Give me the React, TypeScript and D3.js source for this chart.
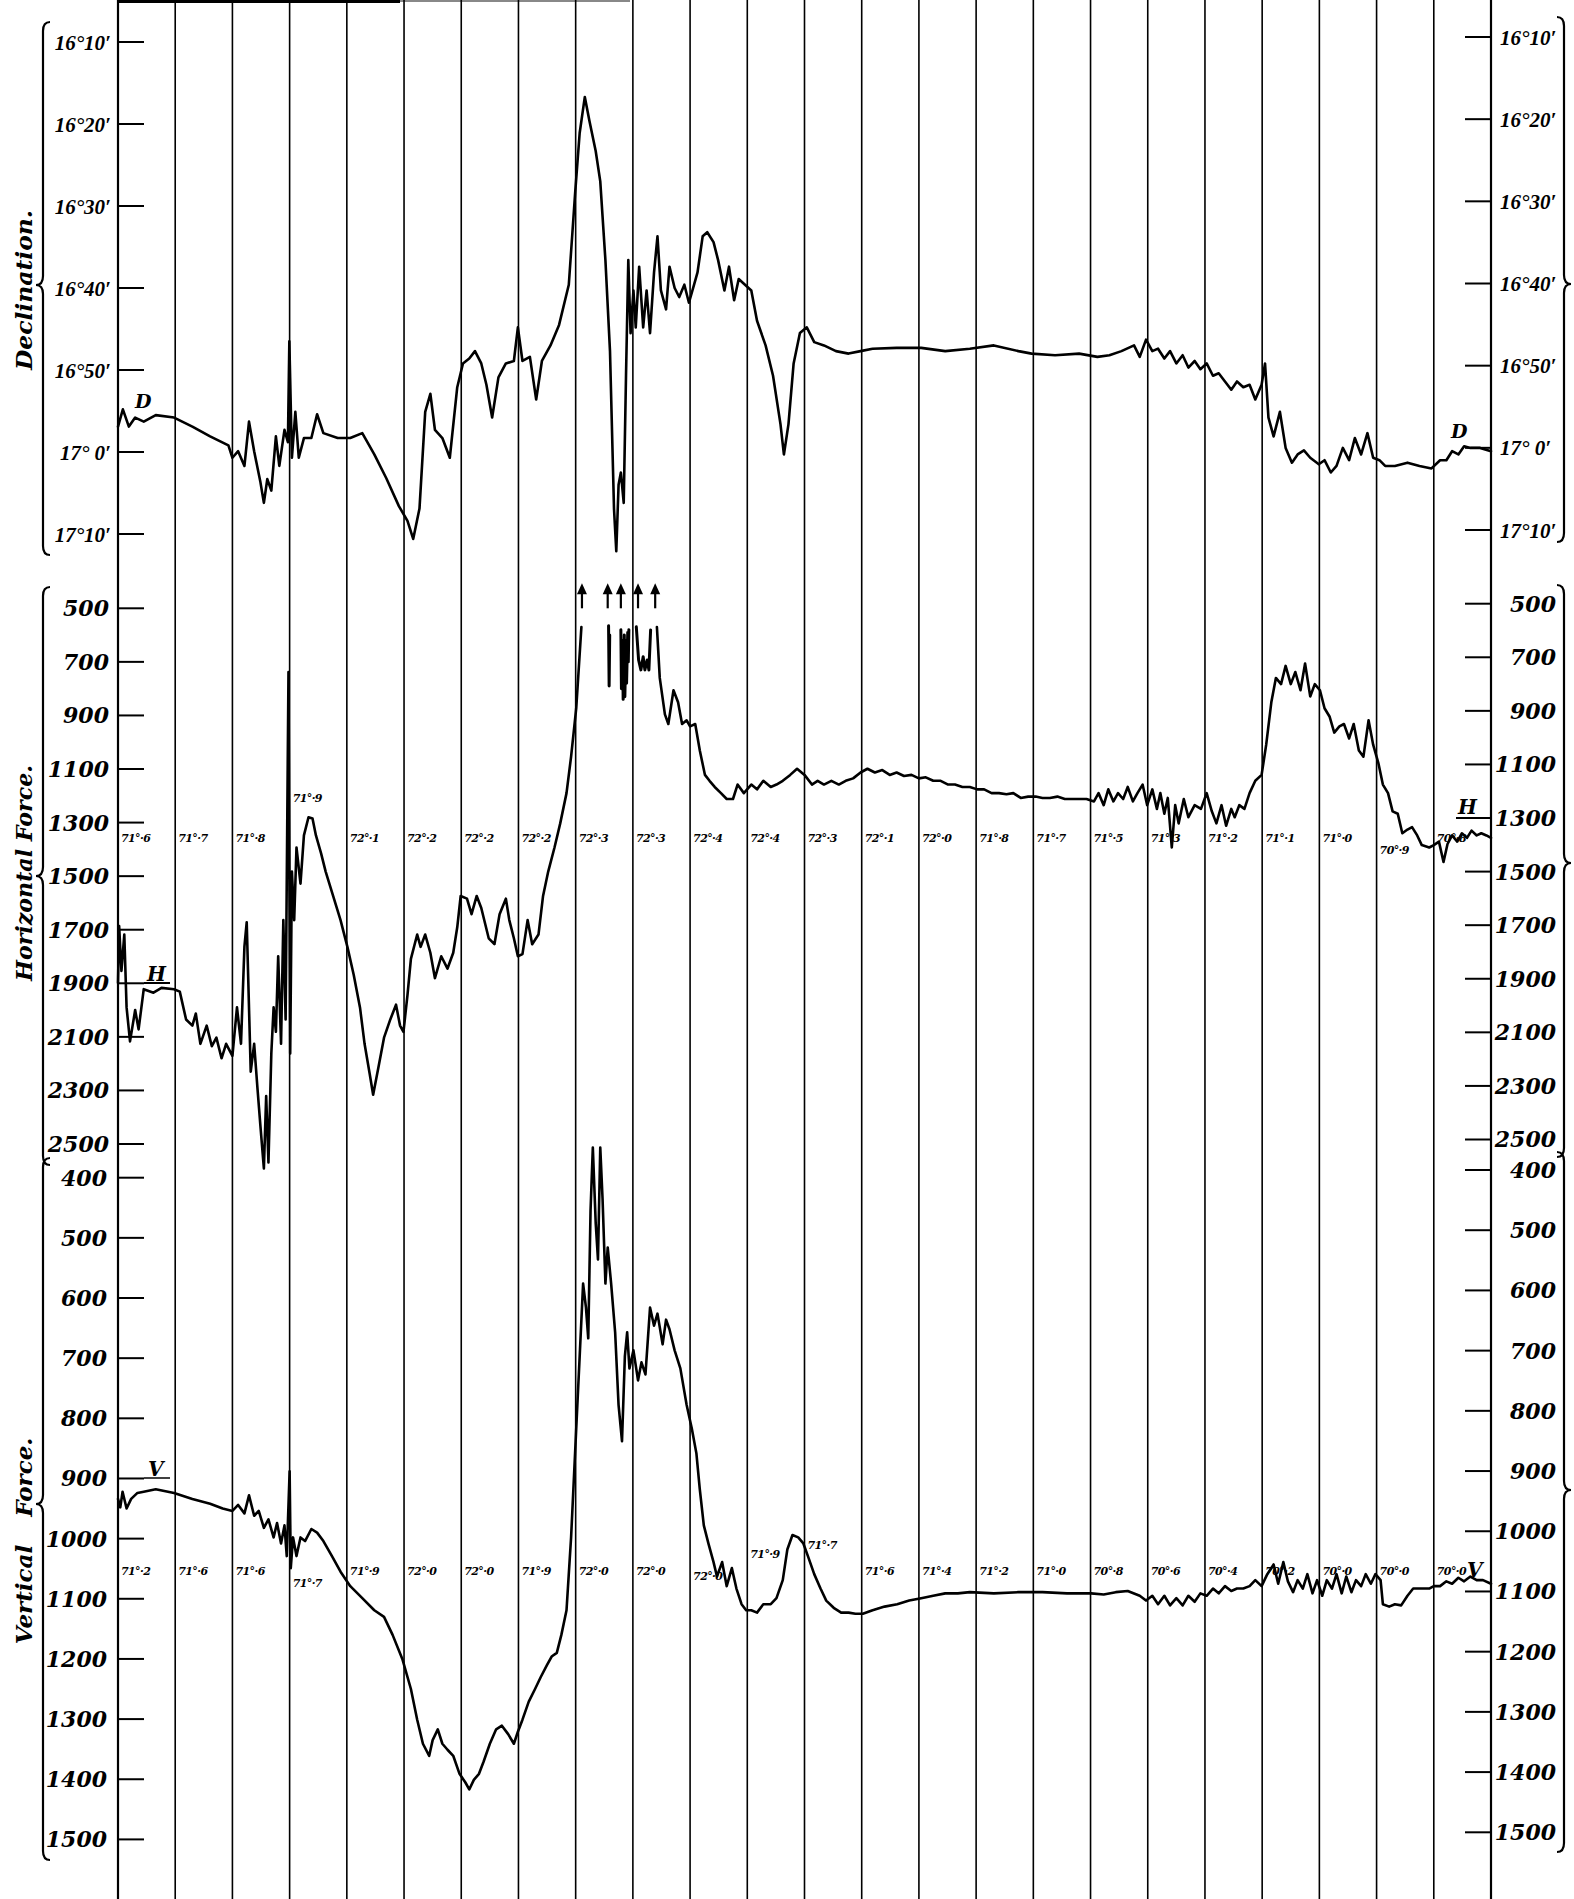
import React from "react";
import * as d3 from "d3";

const W = 1574;
const HGT = 1899;

const hourLines = d3.range(0, 25);

const declTicks = [10, 20, 30, 40, 50, 60, 70];
const declTickLabels = ["16°10′", "16°20′", "16°30′", "16°40′", "16°50′", "17° 0′", "17°10′"];
const hTicks = [500, 700, 900, 1100, 1300, 1500, 1700, 1900, 2100, 2300, 2500];
const vTicks = [400, 500, 600, 700, 800, 900, 1000, 1100, 1200, 1300, 1400, 1500];

const hTemps = ["71·6", "71·7", "71·8", "71·9", "72·1", "72·2", "72·2", "72·2", "72·3", "72·3", "72·4", "72·4",
  "72·3", "72·1", "72·0", "71·8", "71·7", "71·5", "71·3", "71·2", "71·1", "71·0", "70·9", "70·8"];
const vTemps = ["71·2", "71·6", "71·6", "71·7", "71·9", "72·0", "72·0", "71·9", "72·0", "72·0", "72·0", "71·9",
  "71·7", "71·6", "71·4", "71·2", "71·0", "70·8", "70·6", "70·4", "70·2", "70·0", "70·0", "70·0"];

const offScaleHours = [8.11, 8.56, 8.79, 9.09, 9.39];

// Declination, minutes of arc past 16°
const declination: [number, number][] = [
  [0, 56.9], [0.085, 54.8], [0.19, 56.9], [0.3, 55.8], [0.45, 56.3], [0.66, 55.5], [0.98, 55.8], [1.3, 56.9],
  [1.61, 58.1], [1.93, 59.2], [2.0, 60.7], [2.1, 59.9], [2.21, 61.7], [2.29, 56.3], [2.38, 59.9], [2.49, 63.7],
  [2.55, 66.2], [2.61, 63.3], [2.68, 64.7], [2.76, 58.1], [2.82, 61.7], [2.91, 57.3], [2.97, 58.8], [2.995, 46.5],
  [3.04, 60.7], [3.1, 55.1], [3.16, 60.7], [3.25, 58.3], [3.38, 58.3], [3.48, 55.4], [3.59, 57.7], [3.84, 58.3],
  [4.06, 58.3], [4.27, 57.7], [4.48, 60.3], [4.69, 63.2], [4.91, 66.6], [5.06, 68.4], [5.16, 70.6], [5.27, 66.9],
  [5.37, 55.1], [5.46, 52.9], [5.54, 57.3], [5.67, 58.3], [5.8, 60.7], [5.93, 52.1], [6.03, 49.2], [6.14, 48.6],
  [6.24, 47.7], [6.35, 49.2], [6.44, 51.8], [6.54, 55.8], [6.65, 50.9], [6.78, 49.2], [6.92, 48.9], [6.99, 44.8],
  [7.07, 48.9], [7.2, 48.4], [7.31, 53.6], [7.41, 48.9], [7.56, 47.0], [7.71, 44.5], [7.88, 39.6], [7.99, 28.5],
  [8.07, 21.1], [8.16, 16.7], [8.24, 19.6], [8.35, 23.3], [8.43, 27.0], [8.52, 36.6], [8.6, 47.7], [8.67, 66.9],
  [8.71, 72.1], [8.75, 64.0], [8.79, 62.5], [8.84, 66.2], [8.88, 50.7], [8.92, 36.6], [8.96, 45.5], [9.01, 40.3],
  [9.05, 44.8], [9.11, 37.4], [9.18, 44.8], [9.24, 40.3], [9.3, 45.5], [9.37, 38.1], [9.43, 33.7], [9.49, 40.3],
  [9.58, 42.6], [9.64, 37.4], [9.73, 40.0], [9.81, 41.1], [9.9, 39.6], [9.98, 41.8], [10.07, 39.6], [10.13, 38.1],
  [10.22, 33.7], [10.3, 33.2], [10.41, 34.4], [10.49, 36.6], [10.6, 40.3], [10.68, 37.4], [10.77, 41.5], [10.85, 38.9],
  [10.96, 39.6], [11.07, 40.3], [11.17, 44.0], [11.32, 47.0], [11.45, 50.7], [11.58, 56.6], [11.64, 60.3], [11.72, 56.6],
  [11.81, 49.2], [11.92, 45.5], [12.04, 44.8], [12.17, 46.6], [12.34, 47.0], [12.55, 47.7], [12.77, 48.0], [12.98, 47.7],
  [13.19, 47.4], [13.61, 47.3], [14.04, 47.3], [14.46, 47.7], [14.89, 47.4], [15.31, 47.0], [15.74, 47.7], [15.97, 48.0],
  [16.38, 48.2], [16.8, 48.0], [17.12, 48.4], [17.33, 48.2], [17.54, 47.7], [17.76, 47.0], [17.86, 48.4], [17.97, 46.3],
  [18.08, 47.7], [18.18, 47.4], [18.29, 48.6], [18.39, 47.7], [18.5, 49.2], [18.61, 48.2], [18.71, 49.7], [18.82, 48.9],
  [18.92, 49.9], [19.03, 49.2], [19.14, 50.7], [19.24, 50.4], [19.35, 51.4], [19.46, 52.4], [19.56, 51.4], [19.67, 52.1],
  [19.78, 51.8], [19.88, 53.6], [19.99, 51.8], [20.05, 49.2], [20.11, 55.8], [20.2, 58.1], [20.31, 55.1], [20.41, 59.5],
  [20.52, 61.3], [20.62, 60.3], [20.73, 59.8], [20.84, 60.7], [20.99, 61.5], [21.09, 61.0], [21.2, 62.5], [21.3, 61.7],
  [21.41, 59.5], [21.52, 61.0], [21.62, 58.3], [21.73, 60.3], [21.84, 57.7], [21.94, 60.7], [22.05, 61.0], [22.15, 61.7],
  [22.32, 61.7], [22.54, 61.3], [22.75, 61.7], [22.96, 62.0], [23.11, 61.0], [23.22, 61.0], [23.32, 59.9], [23.43, 60.3],
  [23.53, 59.3], [23.64, 59.5], [23.81, 59.5], [24.0, 59.9],
];

// Horizontal force, scale divisions; the trace leaves the sheet between ~8.1h and ~9.4h
const horizontalBefore: [number, number][] = [
  [0, 1899], [0.02, 1686], [0.06, 1854], [0.11, 1718], [0.15, 1990], [0.21, 2117], [0.3, 2000], [0.36, 2072],
  [0.45, 1922], [0.62, 1935], [0.76, 1917], [0.98, 1922], [1.08, 1931], [1.19, 2035], [1.3, 2058], [1.36, 2013],
  [1.44, 2126], [1.55, 2058], [1.64, 2135], [1.72, 2103], [1.81, 2180], [1.89, 2126], [2.0, 2171], [2.08, 1990],
  [2.15, 2126], [2.21, 1763], [2.25, 1672], [2.32, 2230], [2.38, 2126], [2.44, 2298], [2.49, 2434], [2.55, 2591],
  [2.59, 2321], [2.63, 2569], [2.68, 2162], [2.72, 1990], [2.76, 2081], [2.8, 1799], [2.85, 2126], [2.89, 1664],
  [2.93, 2035], [2.98, 738], [3.01, 2162], [3.04, 1483], [3.08, 1664], [3.12, 1393], [3.19, 1528], [3.25, 1348],
  [3.33, 1280], [3.4, 1285], [3.46, 1348], [3.55, 1415], [3.63, 1483], [3.76, 1574], [3.89, 1664], [4.01, 1764],
  [4.12, 1868], [4.23, 1990], [4.31, 2126], [4.4, 2239], [4.46, 2316], [4.55, 2216], [4.65, 2103], [4.76, 2035],
  [4.86, 1980], [4.93, 2058], [4.99, 2081], [5.06, 1944], [5.12, 1809], [5.23, 1718], [5.29, 1764], [5.37, 1718],
  [5.46, 1786], [5.54, 1881], [5.65, 1799], [5.76, 1845], [5.86, 1786], [5.93, 1691], [5.99, 1574], [6.1, 1584],
  [6.18, 1642], [6.27, 1574], [6.35, 1619], [6.48, 1732], [6.58, 1754], [6.67, 1642], [6.78, 1584], [6.84, 1664],
  [6.92, 1732], [6.99, 1799], [7.07, 1791], [7.16, 1664], [7.24, 1754], [7.35, 1718], [7.43, 1574], [7.52, 1483],
  [7.63, 1393], [7.73, 1303], [7.84, 1190], [7.92, 1054], [8.01, 873], [8.1, 570],
];
const horizontalFragments: [number, number][][] = [
  [[8.575, 565], [8.585, 790], [8.595, 600]],
  [[8.79, 580], [8.8, 800], [8.82, 620], [8.83, 840], [8.85, 600], [8.86, 830], [8.88, 620], [8.89, 780], [8.91, 590], [8.92, 700], [8.93, 580]],
  [[9.06, 569], [9.1, 693], [9.14, 730], [9.18, 681], [9.21, 730], [9.25, 693], [9.28, 730], [9.31, 581]],
];
const horizontalAfter: [number, number][] = [
  [9.42, 570], [9.47, 760], [9.56, 896], [9.62, 932], [9.71, 806], [9.79, 851], [9.86, 932], [9.94, 918], [10.0, 941],
  [10.09, 932], [10.17, 1031], [10.26, 1122], [10.34, 1144], [10.43, 1167], [10.54, 1190], [10.64, 1212], [10.75, 1212],
  [10.83, 1158], [10.94, 1190], [11.07, 1158], [11.17, 1176], [11.28, 1144], [11.41, 1167], [11.51, 1158], [11.62, 1144],
  [11.75, 1122], [11.87, 1099], [12.0, 1122], [12.13, 1158], [12.23, 1144], [12.34, 1158], [12.47, 1144], [12.6, 1158],
  [12.72, 1144], [12.85, 1135], [12.98, 1113], [13.1, 1099], [13.23, 1113], [13.36, 1104], [13.49, 1122], [13.61, 1113],
  [13.74, 1126], [13.87, 1122], [14.0, 1135], [14.12, 1131], [14.25, 1144], [14.38, 1144], [14.51, 1158], [14.63, 1158],
  [14.76, 1167], [14.89, 1167], [15.02, 1176], [15.14, 1176], [15.27, 1190], [15.4, 1190], [15.53, 1194], [15.65, 1190],
  [15.78, 1208], [15.91, 1203], [16.04, 1203], [16.16, 1208], [16.29, 1208], [16.42, 1203], [16.55, 1212], [16.67, 1212],
  [16.8, 1212], [16.93, 1212], [17.06, 1221], [17.14, 1190], [17.23, 1235], [17.31, 1176], [17.4, 1221], [17.48, 1190],
  [17.57, 1212], [17.65, 1167], [17.74, 1221], [17.82, 1190], [17.91, 1158], [17.99, 1235], [18.08, 1176], [18.16, 1249],
  [18.22, 1190], [18.29, 1267], [18.35, 1208], [18.42, 1393], [18.48, 1235], [18.54, 1303], [18.63, 1212], [18.71, 1280],
  [18.82, 1235], [18.93, 1249], [19.03, 1190], [19.12, 1258], [19.2, 1303], [19.29, 1235], [19.37, 1312], [19.46, 1249],
  [19.52, 1280], [19.6, 1235], [19.69, 1249], [19.78, 1190], [19.88, 1144], [19.99, 1122], [20.07, 1010], [20.16, 851],
  [20.24, 760], [20.33, 783], [20.41, 715], [20.5, 783], [20.58, 738], [20.67, 806], [20.75, 706], [20.84, 829],
  [20.92, 783], [21.01, 806], [21.09, 873], [21.18, 905], [21.26, 964], [21.35, 941], [21.43, 932], [21.52, 986],
  [21.6, 932], [21.69, 1031], [21.77, 1054], [21.86, 918], [21.94, 1009], [22.03, 1077], [22.11, 1158], [22.2, 1190],
  [22.28, 1258], [22.37, 1267], [22.45, 1340], [22.54, 1326], [22.62, 1317], [22.71, 1348], [22.79, 1384], [22.92, 1393],
  [23.0, 1384], [23.09, 1371], [23.17, 1447], [23.24, 1380], [23.32, 1348], [23.41, 1371], [23.49, 1340], [23.58, 1357],
  [23.66, 1330], [23.75, 1348], [23.83, 1340], [23.92, 1348], [24.0, 1357],
];

// Vertical force, scale divisions
const vertical: [number, number][] = [
  [0, 934], [0.04, 948], [0.08, 922], [0.15, 950], [0.23, 934], [0.34, 924], [0.45, 922], [0.66, 918], [0.98, 924],
  [1.3, 934], [1.61, 942], [1.83, 950], [2.0, 954], [2.1, 944], [2.21, 958], [2.29, 928], [2.38, 962], [2.46, 954],
  [2.55, 982], [2.63, 968], [2.72, 998], [2.78, 974], [2.85, 1008], [2.91, 978], [2.95, 1029], [3.0, 888], [3.02, 1049],
  [3.06, 998], [3.12, 1029], [3.19, 998], [3.27, 1004], [3.38, 984], [3.48, 990], [3.59, 1004], [3.74, 1029], [3.89, 1055],
  [4.06, 1079], [4.27, 1099], [4.48, 1119], [4.65, 1130], [4.8, 1160], [4.97, 1200], [5.12, 1250], [5.23, 1301],
  [5.33, 1341], [5.44, 1361], [5.5, 1335], [5.59, 1317], [5.67, 1341], [5.76, 1351], [5.86, 1361], [5.97, 1391],
  [6.07, 1405], [6.14, 1417], [6.22, 1401], [6.31, 1391], [6.39, 1371], [6.5, 1341], [6.61, 1317], [6.71, 1311],
  [6.82, 1325], [6.92, 1341], [6.99, 1321], [7.07, 1301], [7.18, 1271], [7.29, 1250], [7.39, 1230], [7.5, 1210],
  [7.58, 1196], [7.67, 1190], [7.75, 1160], [7.84, 1119], [7.92, 998], [8.01, 817], [8.07, 697], [8.13, 576],
  [8.18, 616], [8.22, 667], [8.26, 455], [8.3, 350], [8.35, 475], [8.39, 536], [8.43, 350], [8.47, 435], [8.52, 576],
  [8.56, 516], [8.62, 576], [8.69, 657], [8.75, 778], [8.81, 838], [8.86, 697], [8.9, 657], [8.94, 717], [9.01, 687],
  [9.09, 737], [9.15, 707], [9.22, 727], [9.3, 616], [9.37, 646], [9.43, 626], [9.52, 677], [9.58, 636], [9.64, 652],
  [9.73, 687], [9.83, 717], [9.94, 778], [10.03, 817], [10.11, 858], [10.17, 918], [10.24, 978], [10.32, 1008],
  [10.41, 1039], [10.47, 1063], [10.56, 1039], [10.64, 1079], [10.73, 1049], [10.81, 1083], [10.9, 1109], [10.98, 1119],
  [11.07, 1119], [11.17, 1123], [11.28, 1109], [11.41, 1109], [11.51, 1099], [11.62, 1069], [11.7, 1018], [11.79, 994],
  [11.89, 998], [11.98, 1008], [12.06, 1029], [12.17, 1059], [12.28, 1083], [12.38, 1103], [12.51, 1115], [12.64, 1123],
  [12.77, 1123], [12.89, 1125], [13.02, 1125], [13.19, 1119], [13.4, 1113], [13.62, 1109], [13.83, 1103], [14.04, 1099],
  [14.25, 1095], [14.46, 1091], [14.68, 1091], [14.89, 1089], [15.31, 1091], [15.74, 1089], [16.16, 1089], [16.59, 1091],
  [17.01, 1091], [17.23, 1093], [17.44, 1089], [17.65, 1087], [17.86, 1095], [17.97, 1103], [18.08, 1095], [18.18, 1109],
  [18.29, 1095], [18.39, 1111], [18.5, 1099], [18.61, 1111], [18.71, 1095], [18.82, 1105], [18.92, 1091], [19.03, 1095],
  [19.14, 1083], [19.24, 1091], [19.35, 1079], [19.46, 1087], [19.56, 1083], [19.67, 1083], [19.78, 1079], [19.88, 1069],
  [19.99, 1079], [20.09, 1059], [20.2, 1043], [20.28, 1075], [20.37, 1039], [20.45, 1071], [20.54, 1089], [20.62, 1069],
  [20.71, 1083], [20.79, 1059], [20.88, 1091], [20.96, 1069], [21.05, 1095], [21.13, 1069], [21.22, 1083], [21.3, 1059],
  [21.39, 1091], [21.47, 1063], [21.56, 1089], [21.64, 1069], [21.73, 1079], [21.81, 1059], [21.9, 1075], [21.98, 1059],
  [22.07, 1069], [22.11, 1109], [22.22, 1113], [22.32, 1109], [22.43, 1111], [22.54, 1095], [22.64, 1083], [22.75, 1083],
  [22.92, 1083], [23.0, 1079], [23.11, 1079], [23.22, 1071], [23.32, 1075], [23.43, 1065], [23.53, 1071], [23.64, 1063],
  [23.75, 1069], [23.86, 1069], [24.0, 1075],
];

const NUM_FONT = "'DejaVu Serif', serif";
const DECL_FONT = "'Liberation Serif', serif";
const TITLE_FONT = "'DejaVu Serif', serif";

function Brace({ x, y1, y2, ym, dir }: { x: number; y1: number; y2: number; ym: number; dir: number }) {
  const e = -dir * 7;
  const p = dir * 7;
  const d = `M ${x + e} ${y1} Q ${x} ${y1} ${x} ${y1 + 9} L ${x} ${ym - 9} Q ${x} ${ym} ${x + p} ${ym} Q ${x} ${ym} ${x} ${ym + 9} L ${x} ${y2 - 9} Q ${x} ${y2} ${x + e} ${y2}`;
  return <path d={d} fill="none" stroke="#000" strokeWidth={2.2} />;
}

function tempText(label: string) {
  const [a, b] = label.split("·");
  return a + "°·" + b;
}

export default function App() {
  const x = d3.scaleLinear().domain([0, 24]).range([118, 1491]);
  const dL = d3.scaleLinear().domain([10, 70]).range([42, 534]);
  const dR = d3.scaleLinear().domain([10, 70]).range([37, 530]);
  const hL = d3.scaleLinear().domain([500, 2500]).range([608.3, 1144]);
  const hR = d3.scaleLinear().domain([500, 2500]).range([603.7, 1139.5]);
  const vL = d3.scaleLinear().domain([400, 1500]).range([1177.7, 1839.4]);
  const vR = d3.scaleLinear().domain([400, 1500]).range([1170, 1832.3]);

  const lineD = d3.line<[number, number]>().x((d) => x(d[0])).y((d) => dL(d[1]));
  const lineH = d3.line<[number, number]>().x((d) => x(d[0])).y((d) => hL(d[1]));
  const lineV = d3.line<[number, number]>().x((d) => x(d[0])).y((d) => vL(d[1]));

  const xl = x(0);
  const xr = x(24);
  const tickLen = 26;

  const numStyle = { fontFamily: NUM_FONT, fontStyle: "italic" as const, fontWeight: "bold" as const, fill: "#000" };
  const declStyle = { fontFamily: DECL_FONT, fontStyle: "italic" as const, fontWeight: "bold" as const, fill: "#000" };
  const traceProps = { fill: "none", stroke: "#000", strokeWidth: 2.6, strokeLinejoin: "round" as const, strokeLinecap: "round" as const };
  const titleStyle = { fontFamily: TITLE_FONT, fontStyle: "italic" as const, fontWeight: "bold" as const, fontSize: 23, fill: "#000" };

  const hTempShift: Record<number, number> = { 3: -40, 22: 12 };
  const vTempShift: Record<number, number> = { 3: 12, 10: 5, 11: -17, 12: -26 };

  return (
    <svg width={W} height={HGT} viewBox={`0 0 ${W} ${HGT}`} style={{ position: "absolute", left: 0, top: 0, background: "#fff", display: "block" }}>
      <rect x={0} y={0} width={W} height={HGT} fill="#fff" />
      <line x1={xl} x2={400} y1={1.5} y2={1.5} stroke="#000" strokeWidth={3} />
      <line x1={400} x2={630} y1={1} y2={1} stroke="#888" strokeWidth={2} />

      {hourLines.map((h) => (
        <line key={h} x1={x(h)} x2={x(h)} y1={0} y2={HGT} stroke="#000" strokeWidth={h === 0 || h === 24 ? 2.2 : 1.6} />
      ))}

      {declTicks.map((t, i) => (
        <g key={"d" + t}>
          <line x1={xl} x2={xl + tickLen} y1={dL(t)} y2={dL(t)} stroke="#000" strokeWidth={2} />
          <text x={111} y={dL(t)} dy="0.36em" textAnchor="end" fontSize={21} {...declStyle}>{declTickLabels[i]}</text>
          <line x1={xr - tickLen} x2={xr} y1={dR(t)} y2={dR(t)} stroke="#000" strokeWidth={2} />
          <text x={1500} y={dR(t)} dy="0.36em" textAnchor="start" fontSize={21} {...declStyle}>{declTickLabels[i]}</text>
        </g>
      ))}
      {hTicks.map((t) => (
        <g key={"h" + t}>
          <line x1={xl} x2={xl + tickLen} y1={hL(t)} y2={hL(t)} stroke="#000" strokeWidth={2} />
          <text x={109} y={hL(t)} dy="0.36em" textAnchor="end" fontSize={22} {...numStyle}>{t}</text>
          <line x1={xr - tickLen} x2={xr} y1={hR(t)} y2={hR(t)} stroke="#000" strokeWidth={2} />
          <text x={1556} y={hR(t)} dy="0.36em" textAnchor="end" fontSize={22} {...numStyle}>{t}</text>
        </g>
      ))}
      {vTicks.map((t) => (
        <g key={"v" + t}>
          <line x1={xl} x2={xl + tickLen} y1={vL(t)} y2={vL(t)} stroke="#000" strokeWidth={2} />
          <text x={107} y={vL(t)} dy="0.36em" textAnchor="end" fontSize={22} {...numStyle}>{t}</text>
          <line x1={xr - tickLen} x2={xr} y1={vR(t)} y2={vR(t)} stroke="#000" strokeWidth={2} />
          <text x={1556} y={vR(t)} dy="0.36em" textAnchor="end" fontSize={22} {...numStyle}>{t}</text>
        </g>
      ))}

      <Brace x={43} y1={22} y2={555} ym={285} dir={-1} />
      <Brace x={43} y1={587} y2={1165} ym={876} dir={-1} />
      <Brace x={43} y1={1158} y2={1860} ym={1504} dir={-1} />
      <Brace x={1564} y1={17} y2={542} ym={284} dir={1} />
      <Brace x={1564} y1={585} y2={1157} ym={863} dir={1} />
      <Brace x={1564} y1={1152} y2={1852} ym={1490} dir={1} />

      <text transform="translate(32,290) rotate(-90)" textAnchor="middle" {...titleStyle} textLength={160} lengthAdjust="spacingAndGlyphs">Declination.</text>
      <text transform="translate(32,873) rotate(-90)" textAnchor="middle" {...titleStyle} textLength={216} lengthAdjust="spacingAndGlyphs">Horizontal Force.</text>
      <text transform="translate(32,1541) rotate(-90)" textAnchor="middle" {...titleStyle}>
        Vertical<tspan dx={28}>Force.</tspan>
      </text>

      {hTemps.map((t, i) => (
        <text key={"ht" + i} x={x(i) + 3} y={842 + (hTempShift[i] || 0)} fontSize={11} letterSpacing={-0.6} {...numStyle}>{tempText(t)}</text>
      ))}
      {vTemps.map((t, i) => (
        <text key={"vt" + i} x={x(i) + 3} y={1575 + (vTempShift[i] || 0)} fontSize={11} letterSpacing={-0.6} {...numStyle}>{tempText(t)}</text>
      ))}

      <path d={lineD(declination) || ""} {...traceProps} />
      <path d={lineH(horizontalBefore) || ""} {...traceProps} />
      {horizontalFragments.map((f, i) => (
        <path key={"hf" + i} d={lineH(f) || ""} {...traceProps} strokeWidth={3} />
      ))}
      <path d={lineH(horizontalAfter) || ""} {...traceProps} />
      <path d={lineV(vertical) || ""} {...traceProps} />

      {offScaleHours.map((h, i) => {
        const base = hL(500);
        const ax = x(h);
        return (
          <g key={"ar" + i}>
            <line x1={ax} x2={ax} y1={base} y2={base - 18} stroke="#000" strokeWidth={2.2} />
            <path d={`M ${ax - 5} ${base - 14} L ${ax} ${base - 25} L ${ax + 5} ${base - 14} Z`} fill="#000" />
          </g>
        );
      })}

      <text x={135} y={408} fontSize={19} {...numStyle}>D</text>
      <text x={1451} y={438} fontSize={19} {...numStyle}>D</text>
      <text x={147} y={981} fontSize={20} {...numStyle}>H</text>
      <line x1={144} x2={170} y1={983} y2={983} stroke="#000" strokeWidth={2} />
      <text x={1458} y={814} fontSize={20} {...numStyle}>H</text>
      <line x1={1456} x2={1491} y1={818} y2={818} stroke="#000" strokeWidth={2} />
      <text x={148} y={1476} fontSize={20} {...numStyle}>V</text>
      <line x1={144} x2={170} y1={1478} y2={1478} stroke="#000" strokeWidth={1.5} />
      <text x={1467} y={1577} fontSize={20} {...numStyle}>V</text>
    </svg>
  );
}
